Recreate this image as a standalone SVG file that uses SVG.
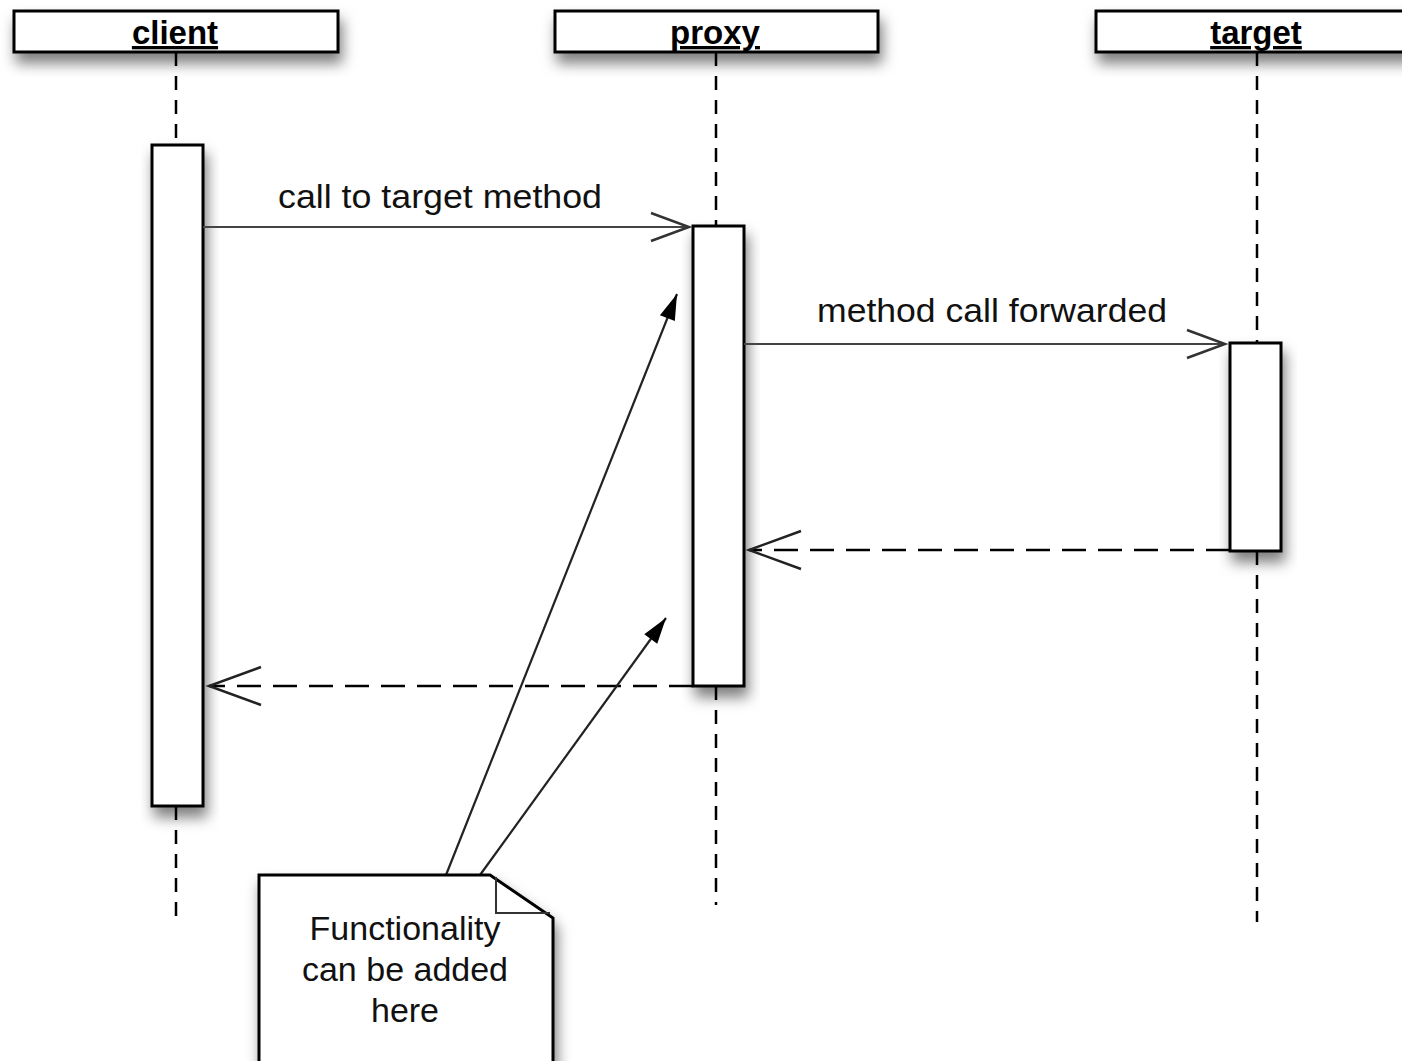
<svg xmlns="http://www.w3.org/2000/svg" width="1402" height="1061" viewBox="0 0 1402 1061">
<defs>
<filter id="sh" x="-20%" y="-30%" width="150%" height="190%">
<feDropShadow dx="3" dy="10" stdDeviation="7" flood-color="#000" flood-opacity="0.5"/>
</filter>
<marker id="open" markerUnits="userSpaceOnUse" markerWidth="60" markerHeight="50" refX="0" refY="0" viewBox="-54 -25 60 50" orient="auto" overflow="visible">
<path d="M-52,-19 L0,0 L-52,19" fill="none" stroke="#222" stroke-width="2.5"/>
</marker>
<marker id="openS" markerUnits="userSpaceOnUse" markerWidth="50" markerHeight="40" refX="0" refY="0" viewBox="-44 -20 50 40" orient="auto" overflow="visible">
<path d="M-38,-14 L0,0 L-38,14" fill="none" stroke="#333" stroke-width="2.5"/>
</marker>
<marker id="solid" markerUnits="userSpaceOnUse" markerWidth="30" markerHeight="20" refX="0" refY="0" viewBox="-28 -10 30 20" orient="auto" overflow="visible">
<path d="M-26,-8 L0,0 L-26,8 Z" fill="#000"/>
</marker>
</defs>
<style>
.hdr{fill:#fff;stroke:#000;stroke-width:3}
.act{fill:#fff;stroke:#000;stroke-width:3}
.life{stroke:#000;stroke-width:2.5;stroke-dasharray:14 10;fill:none}
.msg{stroke:#444;stroke-width:2;fill:none}
.ret{stroke:#000;stroke-width:2.5;stroke-dasharray:24 12;fill:none}
.nl{stroke:#222;stroke-width:2.2;fill:none}
.ht{font-family:"Liberation Sans",Arial,sans-serif;font-size:33px;font-weight:bold;text-anchor:middle;text-decoration:underline;fill:#000}
.lbl{font-family:"Liberation Sans",Arial,sans-serif;font-size:33px;fill:#111}
.nt{font-family:"Liberation Sans",Arial,sans-serif;font-size:34px;text-anchor:middle;fill:#111}
</style>
<rect width="1402" height="1061" fill="#fff"/>
<g id="lifelines">
<line class="life" x1="176" y1="52" x2="176" y2="145"/>
<line class="life" x1="176" y1="806" x2="176" y2="918"/>
<line class="life" x1="716" y1="52" x2="716" y2="226"/>
<line class="life" x1="716" y1="686" x2="716" y2="905"/>
<line class="life" x1="1257" y1="52" x2="1257" y2="343"/>
<line class="life" x1="1257" y1="551" x2="1257" y2="922"/>
</g>
<g id="client">
<rect class="hdr" x="14" y="11" width="324" height="41" filter="url(#sh)"/>
<text class="ht" x="175" y="44">client</text>
<rect class="act" x="152" y="145" width="51" height="661" filter="url(#sh)"/>
</g>
<g id="proxy">
<rect class="hdr" x="555" y="11" width="323" height="41" filter="url(#sh)"/>
<text class="ht" x="715" y="44">proxy</text>
<rect class="act" x="693" y="226" width="51" height="460" filter="url(#sh)"/>
</g>
<g id="target">
<rect class="hdr" x="1096" y="11" width="320" height="41" filter="url(#sh)"/>
<text class="ht" x="1256" y="44">target</text>
<rect class="act" x="1230" y="343" width="51" height="208" filter="url(#sh)"/>
</g>
<g id="connectors">
<line class="msg" x1="203" y1="227" x2="689" y2="227" marker-end="url(#openS)"/>
<text class="lbl" x="440" y="208" text-anchor="middle" textLength="324" lengthAdjust="spacingAndGlyphs">call to target method</text>
<line class="msg" x1="744" y1="344" x2="1225" y2="344" marker-end="url(#openS)"/>
<text class="lbl" x="992" y="322" text-anchor="middle" textLength="350" lengthAdjust="spacingAndGlyphs">method call forwarded</text>
<line class="ret" x1="1230" y1="550" x2="749" y2="550" marker-end="url(#open)"/>
<line class="ret" x1="693" y1="686" x2="209" y2="686" marker-end="url(#open)"/>
<line class="nl" x1="446" y1="875" x2="677" y2="294" marker-end="url(#solid)"/>
<line class="nl" x1="480" y1="875" x2="666" y2="618" marker-end="url(#solid)"/>
</g>
<g id="note">
<path d="M259,1075 L259,875 L490,875 L553,918 L553,1075" fill="#fff" stroke="#000" stroke-width="3" filter="url(#sh)"/>
<path d="M496,877 L496,913 L550,913" fill="none" stroke="#333" stroke-width="2"/>
<text class="nt" x="405" y="940">Functionality</text>
<text class="nt" x="405" y="981">can be added</text>
<text class="nt" x="405" y="1022">here</text>
</g>
</svg>
